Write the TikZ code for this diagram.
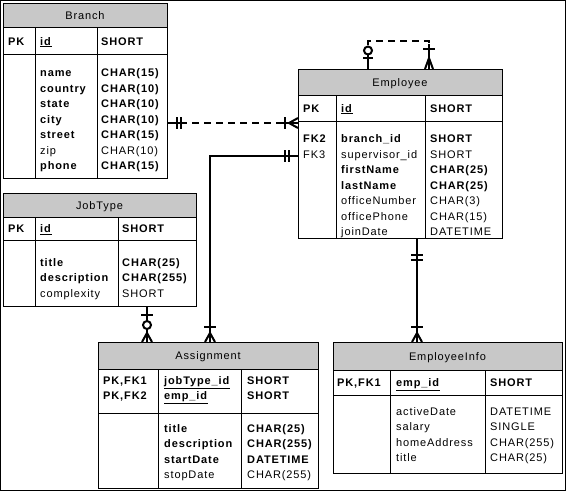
\documentclass[tikz,border=0pt]{standalone}
\usepackage{fontspec}
\setmainfont{Liberation Sans}[LetterSpace=8]
\definecolor{hdrgray}{RGB}{200,200,200}

\begin{document}
\begin{tikzpicture}[x=1pt, y=-1pt,
    tbl/.style 2 args={draw, line width=1.3pt, anchor=north west, inner sep=0pt,
      minimum width=#1, minimum height=#2},
    sep/.style={line width=0.9pt},
    txt/.style={font=\fontsize{11}{15.5}\selectfont, inner sep=0pt, align=left},
    rel/.style={line width=2pt},
    dsh/.style={rel, dash pattern=on 7pt off 5pt}]
  \useasboundingbox (0,0) rectangle (566,491);
  \draw[line width=1pt] (0.5,0.5) rectangle (565.5,490.5);

  % Branch
  \fill[hdrgray] (3,3) rectangle (167,27);
  \node[tbl={164pt}{175pt}] (branch) at (3,3) {};
  \draw[sep] (3,27) -- (167,27);
  \draw[sep] (3,54) -- (167,54);
  \draw[sep] (35,27) -- (35,178);
  \draw[sep] (97,27) -- (97,178);
  \node[txt, anchor=base] (branchT) at (85,19) {Branch};
  \node[txt, anchor=base west] (branchK) at (8,45) {\textbf{PK}};
  \node[txt, anchor=base west] (branchId) at (40,45) {\underline{\textbf{id}}};
  \node[txt, anchor=base west] (branchIdT) at (101,45) {\textbf{SHORT}};
  \node[txt, anchor=north west] (branchF) at (40,65.5) {\strut\textbf{name}\\ \textbf{country}\\
    \textbf{state}\\ \textbf{city}\\ \textbf{street}\\ zip\\ \textbf{phone}};
  \node[txt, anchor=north west] (branchFT) at (101,65.5) {\strut\textbf{CHAR(15)}\\ \textbf{CHAR(10)}\\
    \textbf{CHAR(10)}\\ \textbf{CHAR(10)}\\ \textbf{CHAR(15)}\\ CHAR(10)\\ \textbf{CHAR(15)}};

  % Employee
  \fill[hdrgray] (298,69) rectangle (502,95);
  \node[tbl={204pt}{169pt}] (employee) at (298,69) {};
  \draw[sep] (298,95) -- (502,95);
  \draw[sep] (298,121) -- (502,121);
  \draw[sep] (336,95) -- (336,238);
  \draw[sep] (425,95) -- (425,238);
  \node[txt, anchor=base] (employeeT) at (400,86) {Employee};
  \node[txt, anchor=base west] (employeeK) at (303,112) {\textbf{PK}};
  \node[txt, anchor=base west] (employeeId) at (341,112) {\underline{\textbf{id}}};
  \node[txt, anchor=base west] (employeeIdT) at (430,112) {\textbf{SHORT}};
  \node[txt, anchor=north west] (employeeFK) at (303,131.5) {\strut\textbf{FK2}\\ FK3};
  \node[txt, anchor=north west] (employeeF) at (341,131.5) {\strut\textbf{branch\_id}\\ supervisor\_id\\
    \textbf{firstName}\\ \textbf{lastName}\\ officeNumber\\ officePhone\\ joinDate};
  \node[txt, anchor=north west] (employeeFT) at (430,131.5) {\strut\textbf{SHORT}\\ SHORT\\
    \textbf{CHAR(25)}\\ \textbf{CHAR(25)}\\ CHAR(3)\\ CHAR(15)\\ DATETIME};

  % JobType
  \fill[hdrgray] (3,193) rectangle (196,217);
  \node[tbl={193pt}{113pt}] (jobtype) at (3,193) {};
  \draw[sep] (3,217) -- (196,217);
  \draw[sep] (3,240) -- (196,240);
  \draw[sep] (35,217) -- (35,306);
  \draw[sep] (118,217) -- (118,306);
  \node[txt, anchor=base] (jobtypeT) at (99.5,209) {JobType};
  \node[txt, anchor=base west] (jobtypeK) at (8,232.5) {\textbf{PK}};
  \node[txt, anchor=base west] (jobtypeId) at (40,232.5) {\underline{\textbf{id}}};
  \node[txt, anchor=base west] (jobtypeIdT) at (122,232.5) {\textbf{SHORT}};
  \node[txt, anchor=north west] (jobtypeF) at (40,255) {\strut\textbf{title}\\ \textbf{description}\\ complexity};
  \node[txt, anchor=north west] (jobtypeFT) at (122,255) {\strut\textbf{CHAR(25)}\\ \textbf{CHAR(255)}\\ SHORT};

  % Assignment
  \fill[hdrgray] (98,342) rectangle (318,369);
  \node[tbl={220pt}{146pt}] (assignment) at (98,342) {};
  \draw[sep] (98,369) -- (318,369);
  \draw[sep] (98,413) -- (318,413);
  \draw[sep] (158,369) -- (158,488);
  \draw[sep] (241,369) -- (241,488);
  \node[txt, anchor=base] (assignmentT) at (208,359.5) {Assignment};
  \node[txt, anchor=north west] (assignmentK) at (103,373) {\strut\textbf{PK,FK1}\\ \textbf{PK,FK2}};
  \node[txt, anchor=north west] (assignmentId) at (164,373) {\strut\underline{\textbf{jobType\_id}}\\ \underline{\textbf{emp\_id}}};
  \node[txt, anchor=north west] (assignmentIdT) at (247,373) {\strut\textbf{SHORT}\\ \textbf{SHORT}};
  \node[txt, anchor=north west] (assignmentF) at (164,421) {\strut\textbf{title}\\ \textbf{description}\\
    \textbf{startDate}\\ stopDate};
  \node[txt, anchor=north west] (assignmentFT) at (247,421) {\strut\textbf{CHAR(25)}\\ \textbf{CHAR(255)}\\
    \textbf{DATETIME}\\ CHAR(255)};

  % EmployeeInfo
  \fill[hdrgray] (333,342) rectangle (562,370);
  \node[tbl={229pt}{131pt}] (info) at (333,342) {};
  \draw[sep] (333,370) -- (562,370);
  \draw[sep] (333,395) -- (562,395);
  \draw[sep] (390,370) -- (390,473);
  \draw[sep] (485,370) -- (485,473);
  \node[txt, anchor=base] (infoT) at (447.5,360) {EmployeeInfo};
  \node[txt, anchor=base west] (infoK) at (337,386.5) {\textbf{PK,FK1}};
  \node[txt, anchor=base west] (infoId) at (396,386.5) {\underline{\textbf{emp\_id}}};
  \node[txt, anchor=base west] (infoIdT) at (490,386.5) {\textbf{SHORT}};
  \node[txt, anchor=north west] (infoF) at (396,404) {\strut activeDate\\ salary\\ homeAddress\\ title};
  \node[txt, anchor=north west] (infoFT) at (490,404) {\strut DATETIME\\ SINGLE\\ CHAR(255)\\ CHAR(25)};

  % Branch -> Employee (dashed)
  \draw[dsh] (branch.east |- 0,123) -- (employee.west |- 0,123);
  \draw[rel] (branch.east |- 0,123) -- (185,123);
  \draw[rel] (280,123) -- (employee.west |- 0,123);
  \draw[rel] (177,117) -- (177,129);
  \draw[rel] (181,117) -- (181,129);
  \draw[rel] (285,117) -- (285,129);
  \draw[rel] (298,118) -- (289,123) -- (298,128);

  % Employee supervisor (dashed, self)
  \draw[dsh] (employee.north -| 368,0) -- (368,41) -- (429,41) -- (employee.north -| 429,0);
  \draw[rel] (368,46) -- (368,69);
  \draw[rel] (429,44) -- (429,69);
  \draw[rel] (363,58) -- (373,58);
  \draw[rel, fill=white] (368,50.5) circle (4);
  \draw[rel] (423,49) -- (435,49);
  \draw[rel] (425,69) -- (429,58) -- (433,69);

  % Employee -> Assignment
  \draw[rel] (employee.west |- 0,156) -| (assignment.north -| 210,0);
  \draw[rel] (285,150) -- (285,162);
  \draw[rel] (289,150) -- (289,162);
  \draw[rel] (204,327) -- (216,327);
  \draw[rel] (205,342) -- (210,333) -- (215,342);

  % JobType -> Assignment
  \draw[rel] (jobtype.south -| 147,0) -- (assignment.north -| 147,0);
  \draw[rel] (141,315) -- (153,315);
  \draw[rel, fill=white] (147,325) circle (4);
  \draw[rel] (142,342) -- (147,333) -- (152,342);

  % Employee -> EmployeeInfo
  \draw[rel] (employee.south -| 417,0) -- (info.north -| 417,0);
  \draw[rel] (411,255) -- (423,255);
  \draw[rel] (411,260) -- (423,260);
  \draw[rel] (411,327) -- (423,327);
  \draw[rel] (412,342) -- (417,333) -- (422,342);
\end{tikzpicture}
\end{document}
